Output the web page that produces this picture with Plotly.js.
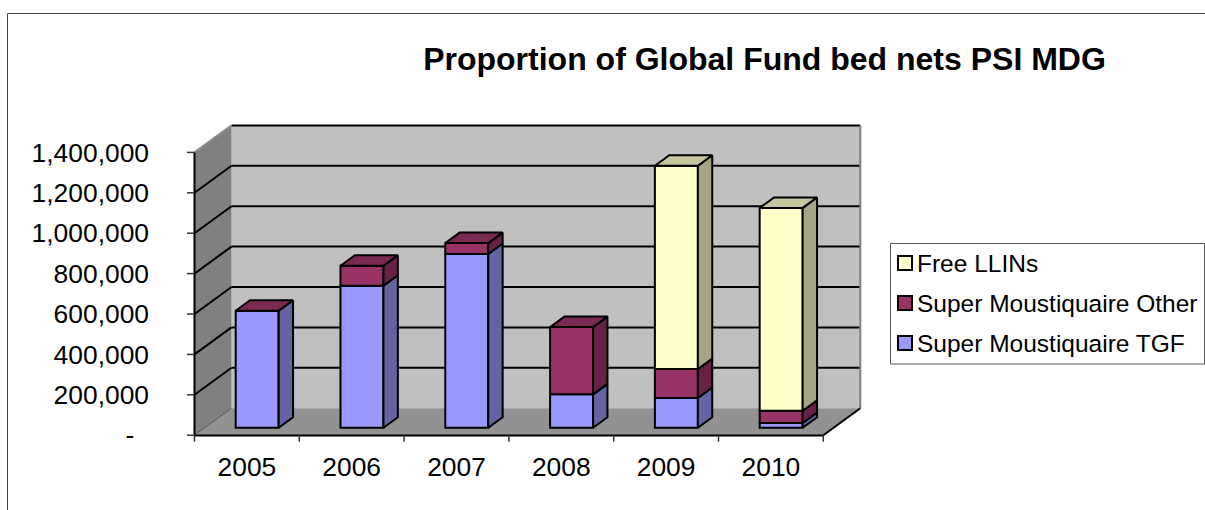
<!DOCTYPE html>
<html>
<head>
<meta charset="utf-8">
<script src="https://cdn.plot.ly/plotly-3.0.1.min.js"></script>
<style>html,body{margin:0;padding:0;background:#fff}#c{width:1205px;height:510px}</style>
</head>
<body>
<div id="c"></div>
<script>
var years = ['2005','2006','2007','2008','2009','2010'];
var tgf   = [579000, 703000, 860000, 165000, 147000, 23000];
var other = [0, 99000, 54000, 333000, 143000, 61000];
var free  = [null, null, null, null, 1007000, 1004000];
var names = ['Super Moustiquaire TGF','Super Moustiquaire Other','Free LLINs'];
var yTicks = [0,200000,400000,600000,800000,1000000,1200000,1400000];
var yLabels = ['-\u00a0\u00a0','200,000','400,000','600,000','800,000','1,000,000','1,200,000','1,400,000'];

var front = ['#9999FF','#993366','#FFFFCC'];
var side  = ['#6464A3','#662244','#A5A585'];
var topc  = ['#7A7ACC','#7A2950','#C6C69E'];

// page geometry of the pseudo-3D box
var W=1205,H=510,L=180,R=875,T=118,B=450;
var X0=194.5,UX=104.8,Y0=435.2,UY=0.000202,DX=37,DY=27;
var NEAR=7.5/27,FAR=18/27,BW=0.41;
function dxv(d){return d*DX/UX;}
function dyv(d){return d*DY/UY;}
function px(p){return (p-L)/(R-L);}
function py(p){return (B-p)/(B-T);}

var series=[tgf,other,free];
var cum=years.map(function(){return 0;});
var traces=[],sidesT=[],topsT=[];
var topX=[[],[],[]],topY=[[],[],[]];
var barX=years.map(function(_,i){return i+dxv(NEAR);});
series.forEach(function(s,k){
  var base=cum.map(function(c){return c+dyv(NEAR);});
  traces.push({type:'bar',name:names[k],x:barX,y:s,base:base,width:BW,
    marker:{color:front[k],line:{color:'#000',width:2}},hoverinfo:'name+y',showlegend:false});
  var sx=[],sy=[];
  s.forEach(function(v,i){
    if(v===null||v===0)return;
    var r=i+BW/2,lo=cum[i],hi=cum[i]+v;
    sx.push(r+dxv(NEAR),r+dxv(FAR),r+dxv(FAR),r+dxv(NEAR),r+dxv(NEAR),null);
    sy.push(lo+dyv(NEAR),lo+dyv(FAR),hi+dyv(FAR),hi+dyv(NEAR),lo+dyv(NEAR),null);
  });
  sidesT.push({type:'scatter',mode:'lines',x:sx,y:sy,fill:'toself',fillcolor:side[k],
    line:{color:'#000',width:2},hoverinfo:'skip',showlegend:false});
  s.forEach(function(v,i){ if(v!==null)cum[i]+=v; });
});
years.forEach(function(_,i){
  var k=free[i]!==null?2:1;
  var l=i-BW/2,r=i+BW/2,v=cum[i];
  topX[k].push(l+dxv(NEAR),r+dxv(NEAR),r+dxv(FAR),l+dxv(FAR),l+dxv(NEAR),null);
  topY[k].push(v+dyv(NEAR),v+dyv(NEAR),v+dyv(FAR),v+dyv(FAR),v+dyv(NEAR),null);
});
[1,2].forEach(function(k){
  topsT.push({type:'scatter',mode:'lines',x:topX[k],y:topY[k],fill:'toself',fillcolor:topc[k],
    line:{color:'#000',width:2},hoverinfo:'skip',showlegend:false});
});
traces=traces.concat(sidesT,topsT);

// walls, floor, grid
var xa=-0.5,xb=5.5,wallTop=1400000,shapes=[];
function poly(pts,fill){
  var d=pts.map(function(p,i){return (i?'L':'M')+p[0]+','+p[1];}).join('')+'Z';
  shapes.push({type:'path',xref:'x',yref:'y',layer:'below',path:d,fillcolor:fill,line:{width:0}});
}
function seg(x1,y1,x2,y2,c,w){
  shapes.push({type:'line',xref:'x',yref:'y',layer:'below',x0:x1,y0:y1,x1:x2,y1:y2,line:{color:c,width:w}});
}
poly([[xa+dxv(1),dyv(1)],[xb+dxv(1),dyv(1)],[xb+dxv(1),wallTop+dyv(1)],[xa+dxv(1),wallTop+dyv(1)]],'#C0C0C0');
poly([[xa,0],[xa+dxv(1),dyv(1)],[xa+dxv(1),wallTop+dyv(1)],[xa,wallTop]],'#808080');
poly([[xa,0],[xb,0],[xb+dxv(1),dyv(1)],[xa+dxv(1),dyv(1)]],'#929292');
yTicks.forEach(function(v){
  if(v===0)return;
  if(v<wallTop)seg(xa,v,xa+dxv(1),v+dyv(1),'#000',2);
  seg(xa+dxv(1),v+dyv(1),xb+dxv(1),v+dyv(1),'#000',2);
});
seg(xa,0,xa+dxv(1),dyv(1),'#555',1);
seg(xa,wallTop,xa+dxv(1),wallTop+dyv(1),'#8c8c8c',2);
seg(xb+dxv(1),dyv(1),xb+dxv(1),wallTop+dyv(1),'#808080',2);
seg(xa,0,xa,wallTop,'#000',2);
seg(xa-0.005,-1500,xb,-1500,'#000',2);
seg(xb,0,xb+dxv(1),dyv(1),'#000',2);
yTicks.forEach(function(v){ seg(xa-7.5/UX,v,xa,v,'#333',1.5); });
for(var t=0;t<=6;t++){ seg(xa+t,0,xa+t,-6.5/UY,'#333',1.5); }

// chart frame
shapes.push({type:'path',xref:'paper',yref:'paper',layer:'below',
  path:'M'+px(7.5)+','+py(510)+'L'+px(7.5)+','+py(13.5)+'L'+px(1205)+','+py(13.5),
  line:{color:'#444',width:1}});

// legend
var annotations=[];
shapes.push({type:'rect',xref:'paper',yref:'paper',x0:px(890.5),x1:px(1204.5),y0:py(364),y1:py(243.5),
  fillcolor:'#fff',line:{color:'#555',width:1}});
[[2,263],[1,303],[0,343]].forEach(function(e){
  var k=e[0],yc=e[1];
  shapes.push({type:'rect',xref:'paper',yref:'paper',x0:px(898),x1:px(912),y0:py(yc+7),y1:py(yc-7),
    fillcolor:front[k],line:{color:'#000',width:2}});
  annotations.push({xref:'paper',yref:'paper',x:px(917),y:py(yc),xanchor:'left',yanchor:'middle',
    showarrow:false,text:names[k],xshift:-2,font:{family:'Liberation Sans, Arial, sans-serif',size:24.5,color:'#000'}});
});

var layout={
  width:W,height:H,autosize:false,showlegend:false,
  paper_bgcolor:'#fff',plot_bgcolor:'rgba(0,0,0,0)',
  margin:{l:L,r:W-R,t:T,b:H-B,pad:0},
  barmode:'overlay',
  font:{family:'Liberation Sans, Arial, sans-serif',color:'#000',size:26},
  title:{text:'<b>Proportion of Global Fund bed nets PSI MDG</b>',x:764.5/W,xref:'container',xanchor:'center',
    y:1-59/H,yref:'container',yanchor:'middle',font:{family:'Liberation Sans, Arial, sans-serif',size:32,color:'#000'}},
  xaxis:{type:'linear',range:[xa+(L-X0)/UX,xa+(R-X0)/UX],tickmode:'array',tickvals:[0,1,2,3,4,5],ticktext:years,
    showgrid:false,zeroline:false,showline:false,ticks:'',ticklabelstandoff:-1,tickfont:{size:26.4},fixedrange:true},
  yaxis:{type:'linear',range:[(Y0-B)/UY,(Y0-T)/UY],tickmode:'array',tickvals:yTicks,ticktext:yLabels,
    showgrid:false,zeroline:false,showline:false,ticks:'',ticklabelstandoff:30,tickfont:{size:26.4},fixedrange:true},
  shapes:shapes,annotations:annotations,hovermode:'closest'
};
Plotly.newPlot('c',traces,layout,{displayModeBar:false,responsive:false});
</script>
</body>
</html>
